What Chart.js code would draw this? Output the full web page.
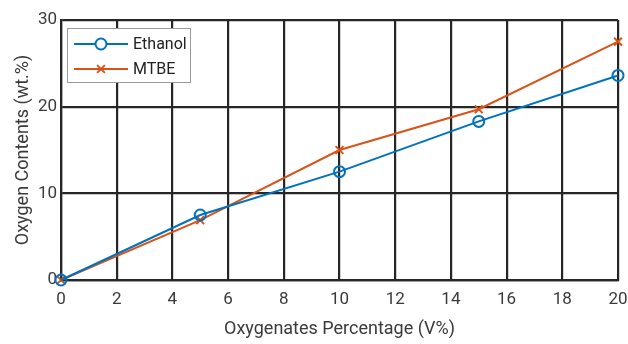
<!DOCTYPE html>
<html>
<head>
<meta charset="utf-8">
<script src="https://cdn.jsdelivr.net/npm/chart.js@4"></script>
<style>
  html, body { margin: 0; padding: 0; background: #fff; }
  #wrap { width: 628px; height: 344px; }
</style>
</head>
<body>
<div id="wrap"><canvas id="oxChart" width="628" height="344"></canvas></div>
<script>
// oxygenate blend levels (V%) and measured oxygen content (wt.%)
const blendPct = [0, 5, 10, 15, 20];
const ethanolOx = [0, 7.5, 12.5, 18.3, 23.6];
const mtbeOx = [0, 6.9, 15.0, 19.7, 27.5];
const xTicks = [0, 2, 4, 6, 8, 10, 12, 14, 16, 18, 20];
const yTicks = [0, 10, 20, 30];

const gridColor = "#262626";
const fontFam = "Roboto, 'Liberation Sans', sans-serif";

// draws the boxed legend in the upper-left corner of the plot
const boxLegend = {
  id: "boxLegend",
  afterDatasetsDraw(chart) {
    const ctx = chart.ctx;
    const area = chart.chartArea;
    const x0 = area.left + 6, y0 = area.top + 8;
    const w = 123, h = 54;
    ctx.save();
    ctx.fillStyle = "#fff";
    ctx.fillRect(x0, y0, w, h);
    ctx.strokeStyle = "#9a9a9a";
    ctx.lineWidth = 1;
    ctx.strokeRect(x0 + 0.5, y0 + 0.5, w, h);
    chart.data.datasets.forEach((ds, i) => {
      const cy = y0 + 16 + i * 25;
      ctx.strokeStyle = ds.borderColor;
      ctx.lineWidth = 2;
      ctx.beginPath();
      ctx.moveTo(x0 + 7, cy);
      ctx.lineTo(x0 + 61, cy);
      ctx.stroke();
      Chart.helpers.drawPoint(ctx, {
        pointStyle: ds.pointStyle, radius: 5.5, borderWidth: 2
      }, x0 + 34, cy);
      ctx.fillStyle = "#222";
      ctx.font = "16px " + fontFam;
      ctx.textBaseline = "middle";
      ctx.fillText(ds.label, x0 + 66, cy + 1);
    });
    ctx.restore();
  }
};

new Chart(document.getElementById("oxChart"), {
  type: "line",
  data: {
    labels: blendPct,
    datasets: [
      {
        label: "Ethanol",
        data: blendPct.map((x, i) => ({ x: x, y: ethanolOx[i] })),
        borderColor: "#0072BD",
        backgroundColor: "rgba(0,0,0,0)",
        pointStyle: "circle",
        pointRadius: 5.5,
        pointBorderWidth: 2,
        borderWidth: 2,
        tension: 0
      },
      {
        label: "MTBE",
        data: blendPct.map((x, i) => ({ x: x, y: mtbeOx[i] })),
        borderColor: "#D95319",
        backgroundColor: "#D95319",
        pointStyle: "crossRot",
        pointRadius: 5.5,
        pointBorderWidth: 2,
        borderWidth: 2,
        tension: 0
      }
    ]
  },
  options: {
    responsive: false,
    animation: false,
    clip: false,
    layout: { padding: { top: 20, right: 0, left: 0, bottom: 0 } },
    plugins: {
      legend: { display: false },
      tooltip: { enabled: false }
    },
    scales: {
      x: {
        type: "linear",
        min: 0,
        max: 20,
        afterBuildTicks: (axis) => { axis.ticks = xTicks.map(v => ({ value: v })); },
        afterFit: (axis) => {
          axis.height = 64;
          axis.paddingRight = 10;
        },
        grid: { color: gridColor, lineWidth: 2.2, drawTicks: false },
        border: { color: gridColor, width: 2.2 },
        ticks: {
          color: "#3a3a3a",
          padding: 10,
          font: { family: fontFam, size: 17 },
          maxRotation: 0
        },
        title: {
          display: true,
          text: "Oxygenates Percentage (V%)",
          color: "#3a3a3a",
          font: { family: fontFam, size: 18 },
          padding: { top: 4 }
        }
      },
      y: {
        min: 0,
        max: 30,
        afterBuildTicks: (axis) => { axis.ticks = yTicks.map(v => ({ value: v })); },
        afterFit: (axis) => { axis.width = 61; },
        grid: { color: gridColor, lineWidth: 2.2, drawTicks: false },
        border: { color: gridColor, width: 2.2 },
        ticks: {
          color: "#3a3a3a",
          padding: 4,
          font: { family: fontFam, size: 17 }
        },
        title: {
          display: true,
          text: "Oxygen Contents (wt.%)",
          color: "#3a3a3a",
          font: { family: fontFam, size: 18 },
          padding: { top: 13, bottom: 0 }
        }
      }
    }
  },
  plugins: [boxLegend]
});
</script>
</body>
</html>
